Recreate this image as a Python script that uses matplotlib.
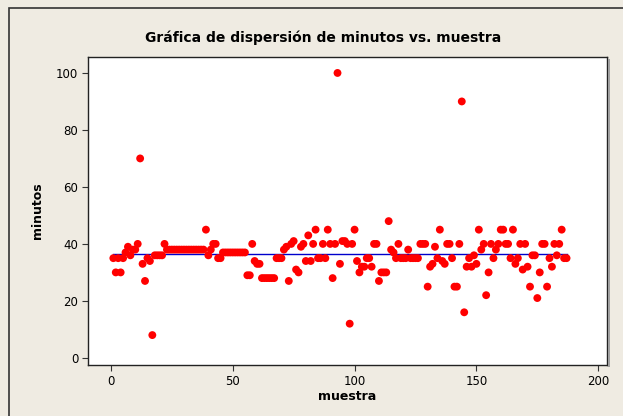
import matplotlib
matplotlib.use("Agg")
import matplotlib.pyplot as plt
import numpy as np
from matplotlib.patches import Rectangle

# minutos por muestra
minutos = [
    35, 30, 35, 30, 35, 37, 39, 36, 38, 38,
    40, 70, 33, 27, 35, 34, 8, 36, 36, 36,
    36, 40, 38, 38, 38, 38, 38, 38, 38, 38,
    38, 38, 38, 38, 38, 38, 38, 38, 45, 36,
    38, 40, 40, 35, 35, 37, 37, 37, 37, 37,
    37, 37, 37, 37, 37, 29, 29, 40, 34, 33,
    33, 28, 28, 28, 28, 28, 28, 35, 35, 35,
    38, 39, 27, 40, 41, 31, 30, 39, 40, 34,
    43, 34, 40, 45, 35, 35, 40, 35, 45, 40,
    28, 40, 100, 33, 41, 41, 40, 12, 40, 45,
    34, 30, 32, 32, 35, 35, 32, 40, 40, 27,
    30, 30, 30, 48, 38, 37, 35, 40, 35, 35,
    35, 38, 35, 35, 35, 35, 40, 40, 40, 25,
    32, 33, 39, 35, 45, 34, 33, 40, 40, 35,
    25, 25, 40, 90, 16, 32, 35, 32, 36, 33,
    45, 38, 40, 22, 30, 40, 35, 38, 40, 45,
    45, 40, 40, 35, 45, 33, 35, 40, 31, 40,
    32, 25, 36, 36, 21, 30, 40, 40, 25, 35,
    32, 40, 36, 40, 45, 35, 35,
]
muestra = np.arange(1, len(minutos) + 1)

x_ticks = [0, 50, 100, 150, 200]
y_ticks = [0, 20, 40, 60, 80, 100]

fondo = "#EFEBE2"

fig = plt.figure(figsize=(6.23, 4.16), dpi=100, facecolor=fondo)
ax = fig.add_axes([88/623, 1 - 365/416, 519/623, 308/416])
ax.set_facecolor("white")

media = np.mean(minutos)
ax.plot([muestra[0], muestra[-1]], [media, media], color="#0000CC", lw=1, zorder=2)
ax.scatter(muestra, minutos, s=32, color="red", edgecolors="none", zorder=3)

ax.set_xlim(-9.4, 203.6)
ax.set_ylim(-2.5, 105.6)
ax.set_xticks(x_ticks)
ax.set_yticks(y_ticks)
ax.tick_params(labelsize=8.5, length=4, width=0.8, color="#333333", pad=3)
for s in ax.spines.values():
    s.set_color("#222222")
    s.set_linewidth(1)

ax.set_xlabel("muestra", fontsize=9, fontweight="bold", labelpad=2)
ax.set_ylabel("minutos", fontsize=9, fontweight="bold", labelpad=9)

fig.text(323/623, 1 - 38/416, "Gráfica de dispersión de minutos vs. muestra",
         ha="center", va="center", fontsize=10, fontweight="bold")

# marco exterior y sombra del área de trazado
fig.patches.append(Rectangle((9/623, -0.1), 1.2, 1 - 8/416 + 0.1, transform=fig.transFigure,
                             fill=False, edgecolor="#333333", lw=1.2, zorder=0))
fig.patches.append(Rectangle((608/623, 1 - 367/416), 2/623, 308/416, transform=fig.transFigure,
                             facecolor="#A0A0A0", edgecolor="none", zorder=0))

fig.savefig("out.png", dpi=100, facecolor=fondo)
